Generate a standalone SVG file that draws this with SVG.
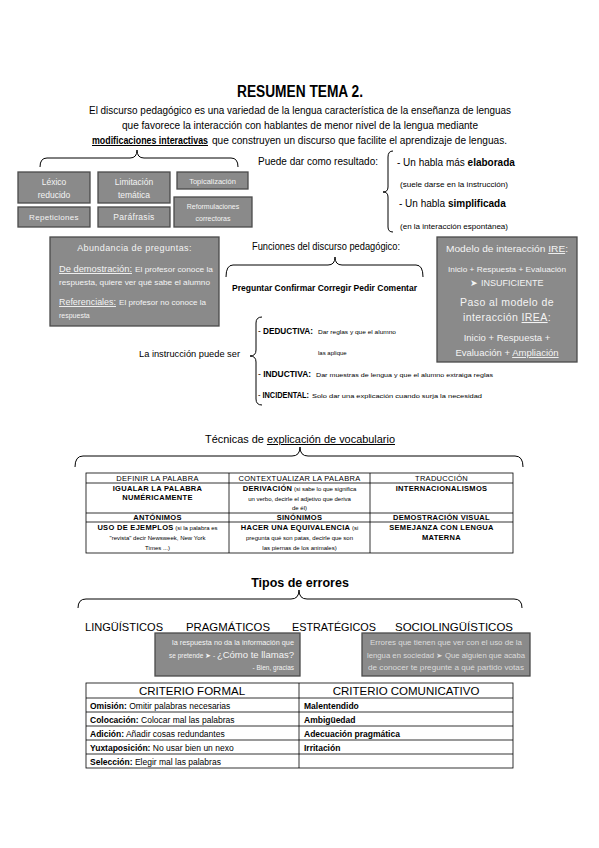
<svg xmlns="http://www.w3.org/2000/svg" width="599" height="848" viewBox="0 0 599 848">
<style>
text{font-family:"Liberation Sans",Arial,sans-serif;fill:#000}
.box rect{fill:#8a8a8a;stroke:#4a4a4a;stroke-width:1.3}
.box text{fill:#f4f4f4}
.brace{fill:none;stroke:#000;stroke-width:1}
.tbl{fill:none;stroke:#000;stroke-width:0.8}
.b{font-weight:bold}
.u{text-decoration:underline}
</style>
<rect width="599" height="848" fill="#fff"/>

<g id="title">
<text x="300" y="97" text-anchor="middle" font-size="16" font-weight="bold" textLength="126" lengthAdjust="spacingAndGlyphs">RESUMEN TEMA 2.</text>
<text x="89" y="114" font-size="10" textLength="422" lengthAdjust="spacingAndGlyphs">El discurso pedagógico es una variedad de la lengua característica de la enseñanza de lenguas</text>
<text x="122" y="129" font-size="10" textLength="356" lengthAdjust="spacingAndGlyphs">que favorece la interacción con hablantes de menor nivel de la lengua mediante</text>
<text x="92" y="144" font-size="10" font-weight="bold" class="u" textLength="116" lengthAdjust="spacingAndGlyphs">modificaciones interactivas</text>
<text x="212" y="144" font-size="10" textLength="295" lengthAdjust="spacingAndGlyphs">que construyen un discurso que facilite el aprendizaje de lenguas.</text>
</g>

<g id="connectors">
<path class="brace" d="M40,167 Q40,158 47,158 L130,158 Q137,158 137,150 Q137,158 144,158 L231,158 Q238,158 238,167"/>
<path class="brace" d="M393,151 Q388,151 388,157 L388,187 Q388,192 383,192 Q388,192 388,197 L388,227 Q388,232 393,232"/>
<path class="brace" d="M226,277 Q226,265 233,265 L328,265 Q335,265 335,257 Q335,265 342,265 L416,265 Q423,265 423,277"/>
<path class="brace" d="M262,317 Q256,317 256,323 L256,350 Q256,356 250,356 Q256,356 256,362 L256,399 Q256,405 262,405"/>
<path class="brace" d="M75,467 Q75,456 83,456 L292,456 Q300,456 300,447 Q300,456 308,456 L515,456 Q523,456 523,467"/>
<path class="brace" d="M78,608 Q78,599 86,599 L291,599 Q299,599 299,590 Q299,599 307,599 L514,599 Q522,599 522,608"/>
</g>

<g id="lexico" class="box"><rect x="18" y="172" width="72" height="31"/>
<text x="54" y="185" font-size="8.5" text-anchor="middle">Léxico</text>
<text x="54" y="198" font-size="8.5" text-anchor="middle">reducido</text></g>
<g id="repeticiones" class="box"><rect x="18" y="207" width="72" height="20"/>
<text x="54" y="220" font-size="8" text-anchor="middle" letter-spacing="0.3">Repeticiones</text></g>
<g id="limitacion" class="box"><rect x="98" y="172" width="72" height="31"/>
<text x="134" y="185" font-size="8.5" text-anchor="middle">Limitación</text>
<text x="134" y="198" font-size="8.5" text-anchor="middle">temática</text></g>
<g id="parafrasis" class="box"><rect x="98" y="207" width="72" height="20"/>
<text x="134" y="220" font-size="8.5" text-anchor="middle" letter-spacing="0.3">Paráfrasis</text></g>
<g id="topicalizacion" class="box"><rect x="177" y="172" width="71" height="17"/>
<text x="212.5" y="183.5" font-size="7.5" text-anchor="middle">Topicalización</text></g>
<g id="reformulaciones" class="box"><rect x="174" y="197" width="78" height="30"/>
<text x="213" y="209" font-size="7" text-anchor="middle">Reformulaciones</text>
<text x="213" y="221" font-size="7" text-anchor="middle">correctoras</text></g>

<g id="abundancia" class="box"><rect x="50" y="237" width="169" height="89"/>
<text x="134.5" y="251" font-size="9" text-anchor="middle" letter-spacing="0.4">Abundancia de preguntas:</text>
<text x="59" y="272" font-size="9.5" class="u" textLength="73" lengthAdjust="spacingAndGlyphs">De demostración:</text>
<text x="135" y="272" font-size="7" textLength="78" lengthAdjust="spacingAndGlyphs">El profesor conoce la</text>
<text x="59" y="285" font-size="7" textLength="151" lengthAdjust="spacingAndGlyphs">respuesta, quiere ver qué sabe el alumno</text>
<text x="59" y="305" font-size="9.5" class="u" textLength="57" lengthAdjust="spacingAndGlyphs">Referenciales:</text>
<text x="119" y="305" font-size="7" textLength="87" lengthAdjust="spacingAndGlyphs">El profesor no conoce la</text>
<text x="59" y="318" font-size="7">respuesta</text></g>

<g id="resultado">
<text x="258" y="165" font-size="10" textLength="120" lengthAdjust="spacingAndGlyphs">Puede dar como resultado:</text>
<text x="397" y="166" font-size="10">- Un habla más <tspan class="b">elaborada</tspan></text>
<text x="400" y="187" font-size="6.5" textLength="108" lengthAdjust="spacingAndGlyphs">(suele darse en la instrucción)</text>
<text x="399" y="207" font-size="10">- Un habla <tspan class="b">simplificada</tspan></text>
<text x="400" y="229" font-size="6.5" textLength="108" lengthAdjust="spacingAndGlyphs">(en la interacción espontánea)</text>
</g>

<g id="funciones">
<text x="252" y="250" font-size="10" textLength="148" lengthAdjust="spacingAndGlyphs">Funciones del discurso pedagógico:</text>
<text x="232" y="291" font-size="9.5" font-weight="bold" textLength="185" lengthAdjust="spacingAndGlyphs">Preguntar Confirmar Corregir Pedir Comentar</text>
</g>

<g id="ire" class="box"><rect x="437" y="237" width="140" height="125"/>
<text x="507" y="252" font-size="9.5" text-anchor="middle" textLength="122" lengthAdjust="spacingAndGlyphs">Modelo de interacción <tspan class="u">IRE</tspan>:</text>
<text x="507" y="272" font-size="6.5" text-anchor="middle" textLength="118" lengthAdjust="spacingAndGlyphs">Inicio + Respuesta + Evaluación</text>
<text x="507" y="286" font-size="9" text-anchor="middle">➤ INSUFICIENTE</text>
<text x="507" y="306" font-size="10.5" text-anchor="middle" letter-spacing="0.4">Paso al modelo de</text>
<text x="507" y="321" font-size="10.5" text-anchor="middle" letter-spacing="0.4">interacción <tspan class="u">IREA</tspan>:</text>
<text x="507" y="341" font-size="9.5" text-anchor="middle">Inicio + Respuesta +</text>
<text x="507" y="356" font-size="9.5" text-anchor="middle">Evaluación + <tspan class="u">Ampliación</tspan></text></g>

<g id="instruccion">
<text x="139" y="357" font-size="9.5" textLength="101" lengthAdjust="spacingAndGlyphs">La instrucción puede ser</text>
<text x="258" y="334" font-size="9" textLength="55" lengthAdjust="spacingAndGlyphs">- <tspan class="b">DEDUCTIVA:</tspan></text>
<text x="318" y="334" font-size="6" textLength="78" lengthAdjust="spacingAndGlyphs">Dar reglas y que el alumno</text>
<text x="318" y="355" font-size="6">las aplique</text>
<text x="258" y="377" font-size="9" textLength="53" lengthAdjust="spacingAndGlyphs">- <tspan class="b">INDUCTIVA:</tspan></text>
<text x="316" y="377" font-size="6" textLength="177" lengthAdjust="spacingAndGlyphs">Dar muestras de lengua y que el alumno extraiga reglas</text>
<text x="258" y="398" font-size="9" textLength="51" lengthAdjust="spacingAndGlyphs">- <tspan class="b">INCIDENTAL:</tspan></text>
<text x="312" y="398" font-size="6" textLength="170" lengthAdjust="spacingAndGlyphs">Solo dar una explicación cuando surja la necesidad</text>
</g>

<g id="tecnicas">
<text x="205" y="443" font-size="10" textLength="190" lengthAdjust="spacingAndGlyphs">Técnicas de <tspan class="u">explicación de vocabulario</tspan></text>
<rect class="tbl" x="86" y="473" width="427" height="80"/>
<line class="tbl" x1="86" y1="483" x2="513" y2="483"/>
<line class="tbl" x1="86" y1="513" x2="513" y2="513"/>
<line class="tbl" x1="86" y1="522" x2="513" y2="522"/>
<line class="tbl" x1="229" y1="473" x2="229" y2="553"/>
<line class="tbl" x1="370" y1="473" x2="370" y2="553"/>
<g font-size="7.5" text-anchor="middle" letter-spacing="0.3">
<text x="157.5" y="481">DEFINIR LA PALABRA</text>
<text x="299.5" y="481">CONTEXTUALIZAR LA PALABRA</text>
<text x="441.5" y="481">TRADUCCIÓN</text>
<text x="157.5" y="491" class="b">IGUALAR LA PALABRA</text>
<text x="157.5" y="500" class="b">NUMÉRICAMENTE</text>
<text x="299.5" y="491"><tspan class="b">DERIVACIÓN</tspan><tspan font-size="6" letter-spacing="0"> (si sabe lo que significa</tspan></text>
<text x="299.5" y="501" font-size="6" letter-spacing="0">un verbo, decirle el adjetivo que deriva</text>
<text x="299.5" y="510" font-size="6" letter-spacing="0">de él)</text>
<text x="441.5" y="491" class="b">INTERNACIONALISMOS</text>
<text x="157.5" y="520" class="b">ANTÓNIMOS</text>
<text x="299.5" y="520" class="b">SINÓNIMOS</text>
<text x="441.5" y="520" class="b">DEMOSTRACIÓN VISUAL</text>
<text x="157.5" y="530"><tspan class="b">USO DE EJEMPLOS</tspan><tspan font-size="6" letter-spacing="0"> (si la palabra es</tspan></text>
<text x="157.5" y="540" font-size="6" letter-spacing="0">"revista" decir Newsweek, New York</text>
<text x="157.5" y="550" font-size="6" letter-spacing="0">Times ...)</text>
<text x="299.5" y="530"><tspan class="b">HACER UNA EQUIVALENCIA</tspan><tspan font-size="6" letter-spacing="0"> (si</tspan></text>
<text x="299.5" y="540" font-size="6" letter-spacing="0">pregunta qué son patas, decirle que son</text>
<text x="299.5" y="550" font-size="6" letter-spacing="0">las piernas de los animales)</text>
<text x="441.5" y="530" class="b">SEMEJANZA CON LENGUA</text>
<text x="441.5" y="540" class="b">MATERNA</text>
</g>
</g>

<g id="errores">
<text x="300" y="587" font-size="12.5" font-weight="bold" text-anchor="middle">Tipos de errores</text>
<text x="85" y="631" font-size="11" textLength="78" lengthAdjust="spacingAndGlyphs">LINGÜÍSTICOS</text>
<text x="186" y="631" font-size="11" textLength="84" lengthAdjust="spacingAndGlyphs">PRAGMÁTICOS</text>
<text x="292" y="631" font-size="11" textLength="84" lengthAdjust="spacingAndGlyphs">ESTRATÉGICOS</text>
<text x="395" y="631" font-size="11" textLength="118" lengthAdjust="spacingAndGlyphs">SOCIOLINGÜÍSTICOS</text>
</g>

<g id="pragmaticos" class="box"><rect x="155" y="633" width="145" height="43"/>
<text x="294" y="645" font-size="6.5" text-anchor="end" textLength="122" lengthAdjust="spacingAndGlyphs">la respuesta no da la información que</text>
<text x="294" y="658" font-size="6.5" text-anchor="end">se pretende ➤ - <tspan font-size="9.5">¿Cómo te llamas?</tspan></text>
<text x="294" y="670" font-size="6.5" text-anchor="end">- Bien, gracias</text></g>

<g id="sociolinguisticos" class="box"><rect x="362" y="633" width="168" height="43"/>
<text x="446" y="645" font-size="7" text-anchor="middle" style="fill:#dcdcdc" textLength="152" lengthAdjust="spacingAndGlyphs">Errores que tienen que ver con el uso de la</text>
<text x="446" y="658" font-size="7" text-anchor="middle" style="fill:#dcdcdc" textLength="158" lengthAdjust="spacingAndGlyphs">lengua en sociedad ➤ Que alguien que acaba</text>
<text x="446" y="670" font-size="7" text-anchor="middle" style="fill:#dcdcdc" textLength="156" lengthAdjust="spacingAndGlyphs">de conocer te pregunte a qué partido votas</text></g>

<g id="criterios">
<rect class="tbl" x="86" y="683" width="427" height="85"/>
<line class="tbl" x1="86" y1="698" x2="513" y2="698"/>
<line class="tbl" x1="86" y1="712" x2="513" y2="712"/>
<line class="tbl" x1="86" y1="726" x2="513" y2="726"/>
<line class="tbl" x1="86" y1="740" x2="513" y2="740"/>
<line class="tbl" x1="86" y1="754" x2="513" y2="754"/>
<line class="tbl" x1="299" y1="683" x2="299" y2="768"/>
<text x="192" y="695" font-size="11.5" text-anchor="middle">CRITERIO FORMAL</text>
<text x="406" y="695" font-size="11.5" text-anchor="middle">CRITERIO COMUNICATIVO</text>
<g font-size="8.5">
<text x="90" y="709"><tspan class="b">Omisión:</tspan> Omitir palabras necesarias</text>
<text x="90" y="723"><tspan class="b">Colocación:</tspan> Colocar mal las palabras</text>
<text x="90" y="737"><tspan class="b">Adición:</tspan> Añadir cosas redundantes</text>
<text x="90" y="751"><tspan class="b">Yuxtaposición:</tspan> No usar bien un nexo</text>
<text x="90" y="765"><tspan class="b">Selección:</tspan> Elegir mal las palabras</text>
<text x="304" y="709" class="b">Malentendido</text>
<text x="304" y="723" class="b">Ambigüedad</text>
<text x="304" y="737" class="b">Adecuación pragmática</text>
<text x="304" y="751" class="b">Irritación</text>
</g>
</g>
</svg>
